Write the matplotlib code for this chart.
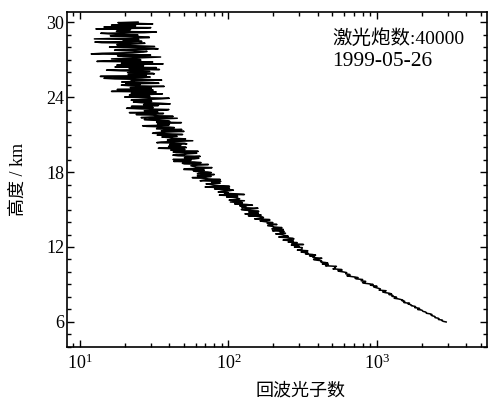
import numpy as np
import matplotlib
matplotlib.use('Agg')
import matplotlib.pyplot as plt
from matplotlib.ticker import MultipleLocator, LogLocator, NullFormatter

plt.rcParams['font.family'] = ['Liberation Serif', 'Noto Sans CJK SC']
plt.rcParams['mathtext.fontset'] = 'stix'

# altitude bins (km): 50 m resolution, split in two interleaved grids
alt_even = np.round(np.arange(6.0, 30.05, 0.1), 2)   # 6.0, 6.1, ... 30.0
alt_odd = np.round(np.arange(6.05, 30.0, 0.1), 2)    # 6.05, 6.15, ... 29.95

# photon counts at alt_even
counts_even = [
    2923, 2740, 2591, 2587, 2466, 2351, 2344, 2150, 2121, 2024,   # 6 km
    1878, 1927, 1823, 1705, 1667, 1656, 1511, 1475, 1445, 1305,   # 7
    1348, 1281, 1202, 1209, 1093, 1152, 1045, 1017, 951, 954,     # 8
    942, 823, 830, 782, 800, 712, 709, 627, 656, 617,             # 9
    597, 545, 578, 519, 520, 450, 469, 467, 419, 423,             # 10
    374, 425, 369, 351, 368, 344, 308, 342, 311, 313,             # 11
    278, 292, 320, 267, 252, 273, 256, 271, 218, 246,             # 12
    225, 242, 222, 198, 234, 199, 203, 184, 212, 182,             # 13
    185, 163, 189, 163, 170, 136, 155, 159, 137, 145,             # 14
    122, 158, 126, 119, 133, 122, 103, 128, 111, 116,             # 15
    97.2, 107.8, 128, 94.0, 85.2, 100.4, 90.1, 101.6, 69.6, 87.2,  # 16
    75.7, 87.8, 77.0, 64.4, 88.0, 68.0, 71.6, 61.7, 80.3, 62.7,   # 17
    72.7, 58.0, 50.0, 66.3, 60.3, 55.8, 73.2, 48.9, 58.8, 54.1,   # 18
    42.3, 63.2, 55.7, 45.8, 50.1, 61.1, 42.4, 45.9, 50.9, 33.7,   # 19
    51.4, 47.0, 40.2, 50.6, 35.3, 57.5, 40.5, 42.6, 35.6, 44.2,   # 20
    49.1, 30.8, 38.8, 35.3, 48.5, 32.9, 39.4, 26.4, 40.0, 35.8,   # 21
    32.8, 38.2, 27.1, 45.2, 29.8, 33.2, 23.9, 36.5, 33.4, 27.1,   # 22
    39.7, 20.6, 29.4, 33.5, 26.8, 34.8, 22.9, 30.2, 26.6, 39.9,   # 23
    20.0, 27.5, 29.2, 22.1, 32.6, 24.5, 17.8, 30.2, 26.7, 21.9,   # 24
    25.4, 34.0, 19.1, 22.1, 28.3, 14.5, 29.7, 23.7, 21.1, 31.0,   # 25
    24.8, 18.8, 34.3, 21.4, 17.2, 26.8, 23.3, 19.0, 30.9, 15.8,   # 26
    25.4, 21.0, 34.9, 17.9, 23.8, 14.1, 26.6, 20.6, 24.7, 31.6,   # 27
    15.8, 23.3, 17.7, 27.4, 12.6, 21.6, 24.9, 18.6, 29.2, 16.0,   # 28
    20.4, 13.8, 32.7, 17.9, 21.9, 25.4, 14.5, 23.7, 18.9, 22.6,   # 29
    24.6,                                                         # 30
]

# photon counts at alt_odd
counts_odd = [
    2796, 2755, 2616, 2459, 2439, 2313, 2281, 2149, 2041, 2004,   # 6 km
    1937, 1795, 1803, 1707, 1617, 1520, 1538, 1492, 1388, 1356,   # 7
    1261, 1268, 1252, 1136, 1119, 1034, 1054, 986, 1001, 902,     # 8
    893, 799, 839, 789, 725, 746, 659, 658, 617, 625,             # 9
    561, 582, 505, 523, 533, 470, 428, 454, 423, 391,             # 10
    410, 374, 380, 386, 330, 330, 340, 291, 312, 314,             # 11
    299, 265, 275, 290, 271, 233, 276, 240, 253, 236,             # 12
    208, 231, 237, 210, 196, 229, 199, 184, 194, 199,             # 13
    170, 190, 150, 172, 159, 166, 129, 150, 160, 129,             # 14
    146, 123, 131, 145, 110, 124, 114, 101, 119, 113,             # 15
    115.2, 86.8, 112.7, 99.4, 89.3, 107.9, 80.6, 87.0, 101.6, 78.7,  # 16
    70.6, 81.0, 88.8, 67.9, 73.0, 57.0, 76.4, 71.7, 61.7, 76.7,   # 17
    59.8, 68.7, 50.2, 77.5, 58.0, 61.8, 50.4, 65.4, 42.8, 56.0,   # 18
    58.5, 50.5, 64.5, 42.2, 52.8, 44.4, 62.5, 40.9, 47.0, 52.0,   # 19
    39.5, 47.8, 52.4, 32.9, 44.2, 38.8, 51.4, 39.8, 45.1, 33.1,   # 20
    40.2, 32.3, 50.2, 40.3, 32.8, 43.2, 28.1, 39.2, 33.2, 48.2,   # 21
    40.2, 30.3, 35.3, 25.8, 42.4, 31.1, 36.2, 21.5, 32.2, 38.1,   # 22
    25.9, 31.1, 22.2, 33.8, 40.5, 25.8, 30.4, 22.1, 34.8, 25.7,   # 23
    29.6, 21.5, 35.9, 24.0, 16.3, 31.1, 25.5, 21.8, 36.9, 19.0,   # 24
    20.3, 31.4, 22.9, 35.5, 17.2, 26.2, 13.7, 28.0, 31.7, 20.9,   # 25
    29.5, 15.1, 25.0, 32.7, 20.7, 17.7, 36.3, 22.2, 13.0, 25.7,   # 26
    16.3, 26.8, 19.5, 29.9, 11.9, 22.6, 28.3, 17.1, 33.6, 19.5,   # 27
    31.8, 17.8, 23.7, 14.0, 26.1, 19.5, 12.5, 29.3, 22.3, 24.6,   # 28
    15.9, 27.1, 17.6, 21.5, 12.8, 30.0, 20.1, 16.3, 30.9, 18.0,   # 29
]

y_ticks = [6, 12, 18, 24, 30]
shots_label = '激光炮数:40000'
date_label = '1999-05-26'

altitude = np.concatenate([alt_even, alt_odd])
counts = np.concatenate([counts_even, counts_odd])
order = np.argsort(altitude)

fig = plt.figure(figsize=(4.91, 4.01), dpi=100)
ax = fig.add_axes([0.1365, 0.1347, 0.8555, 0.8353])

ax.plot(counts[order], altitude[order], color='black', lw=1.1)

ax.set_xscale('log')
ax.set_xlim(8.18, 5510)
ax.set_ylim(4.0, 30.8)
ax.set_yticks(y_ticks)
ax.yaxis.set_minor_locator(MultipleLocator(1))
ax.xaxis.set_major_locator(LogLocator(base=10))
ax.xaxis.set_minor_locator(LogLocator(base=10, subs=np.arange(2, 10)))
ax.xaxis.set_minor_formatter(NullFormatter())

ax.tick_params(which='both', direction='in', top=True, right=True,
               labelsize=13, width=1)
ax.tick_params(axis='y', pad=2)
ax.tick_params(axis='x', pad=5)
ax.tick_params(which='major', length=5)
ax.tick_params(which='minor', length=3)
for s in ax.spines.values():
    s.set_linewidth(1.2)

ax.set_xlabel('回波光子数', fontsize=13)
ax.xaxis.set_label_coords(0.555, -0.105)
ax.set_ylabel('高度 / km', fontsize=13)
ax.yaxis.set_label_coords(-0.095, 0.5)

ax.text(0.631, 0.922, shots_label, transform=ax.transAxes,
        fontsize=14, va='center', ha='left')
ax.text(0.631, 0.851, date_label, transform=ax.transAxes,
        fontsize=15.5, va='center', ha='left')

fig.savefig('out.png', dpi=100)
